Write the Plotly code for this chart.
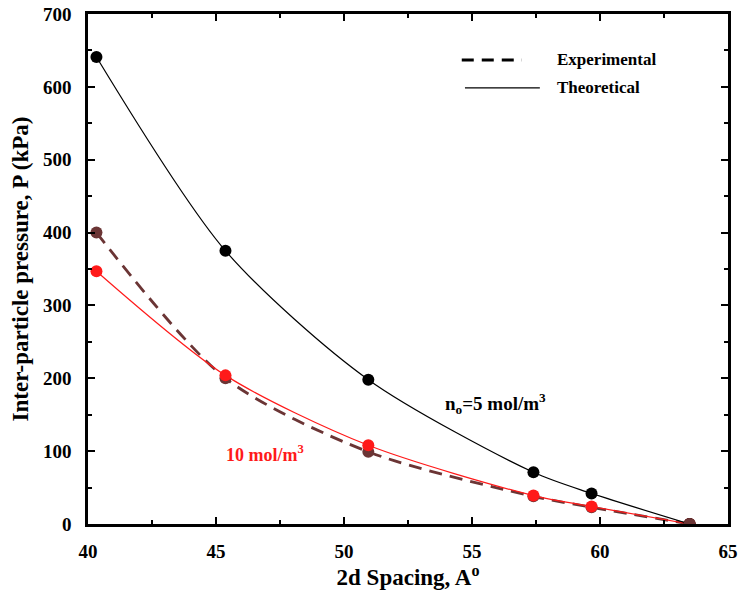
import plotly.graph_objects as go

# Data
spacing = [40.33, 45.37, 50.95, 57.4, 59.67, 63.5]
p_theory_5 = [641, 375, 198, 71, 42, 0]
p_exp_10 = [400, 200, 99, 38, 23, 0]
p_theory_10 = [347, 204, 108, 39, 24, 0]

BROWN = "#6b3535"
RED = "#ff1a1a"
FONT = "Liberation Serif"

fig = go.Figure()

fig.add_trace(go.Scatter(
    x=spacing, y=p_exp_10, mode="lines+markers",
    line=dict(color=BROWN, width=2.8, dash="13px,8px", shape="spline", smoothing=0.8),
    marker=dict(color=BROWN, size=12, symbol="circle"),
    showlegend=False))

fig.add_trace(go.Scatter(
    x=spacing, y=p_theory_10, mode="lines+markers",
    line=dict(color=RED, width=1.2, shape="spline", smoothing=0.8),
    marker=dict(color=RED, size=12, symbol="circle"),
    showlegend=False))

fig.add_trace(go.Scatter(
    x=spacing, y=p_theory_5, mode="lines+markers",
    line=dict(color="black", width=1.2, shape="spline", smoothing=0.8),
    marker=dict(color="black", size=12, symbol="circle"),
    showlegend=False))

# Re-draw the brown endpoint on top (shared last point)
fig.add_trace(go.Scatter(
    x=spacing[-1:], y=p_exp_10[-1:], mode="markers",
    marker=dict(color=BROWN, size=12), showlegend=False))

# Custom legend (lines drawn in paper coordinates)
fig.add_shape(type="line", xref="paper", yref="paper",
              x0=0.584, x1=0.678, y0=0.91, y1=0.91,
              line=dict(color="black", width=3, dash="12px,8px"))
fig.add_shape(type="line", xref="paper", yref="paper",
              x0=0.589, x1=0.706, y0=0.855, y1=0.855,
              line=dict(color="black", width=1.2))
fig.add_annotation(xref="paper", yref="paper", x=0.729, y=0.91,
                   text="<b>Experimental</b>", showarrow=False,
                   xanchor="left", yanchor="middle",
                   font=dict(family=FONT, size=17, color="black"))
fig.add_annotation(xref="paper", yref="paper", x=0.729, y=0.855,
                   text="<b>Theoretical</b>", showarrow=False,
                   xanchor="left", yanchor="middle",
                   font=dict(family=FONT, size=17, color="black"))

fig.add_annotation(x=55.9, y=165, text="<b>n<sub>o</sub>=5 mol/m<sup>3</sup></b>",
                   showarrow=False, font=dict(family=FONT, size=19, color="black"))
fig.add_annotation(x=46.9, y=97, text="<b>10 mol/m<sup>3</sup></b>",
                   showarrow=False, font=dict(family=FONT, size=18, color=RED))

axis_common = dict(
    showline=True, linecolor="black", linewidth=2.5, mirror="ticks",
    ticks="inside", ticklen=7, tickwidth=2, tickcolor="black",
    showgrid=False, zeroline=False, automargin=False,
    tickfont=dict(family=FONT, size=19, color="black"),
)

fig.update_xaxes(
    range=[40, 65], dtick=5, tick0=40,
    minor=dict(ticks="inside", ticklen=4, tickwidth=2, dtick=2.5, tick0=40, tickcolor="black"),
    title=dict(text="<b>2d Spacing, A<sup>o</sup></b>", font=dict(family=FONT, size=23, color="black"), standoff=6),
    tickprefix="<b>", ticksuffix="</b>", ticklabelstandoff=8,
    **axis_common)
fig.update_yaxes(
    range=[0, 700], dtick=100, tick0=0,
    minor=dict(ticks="inside", ticklen=4, tickwidth=2, dtick=50, tick0=0, tickcolor="black"),
    title=dict(text="<b>Inter-particle pressure, P (kPa)</b>", font=dict(family=FONT, size=23, color="black"), standoff=8),
    tickprefix="<b>", ticksuffix="</b>", ticklabelstandoff=10,
    **axis_common)

fig.update_layout(
    width=740, height=596,
    margin=dict(l=88, r=12, t=14, b=72),
    plot_bgcolor="white", paper_bgcolor="white",
    showlegend=False,
)

fig.write_html("out.html")
